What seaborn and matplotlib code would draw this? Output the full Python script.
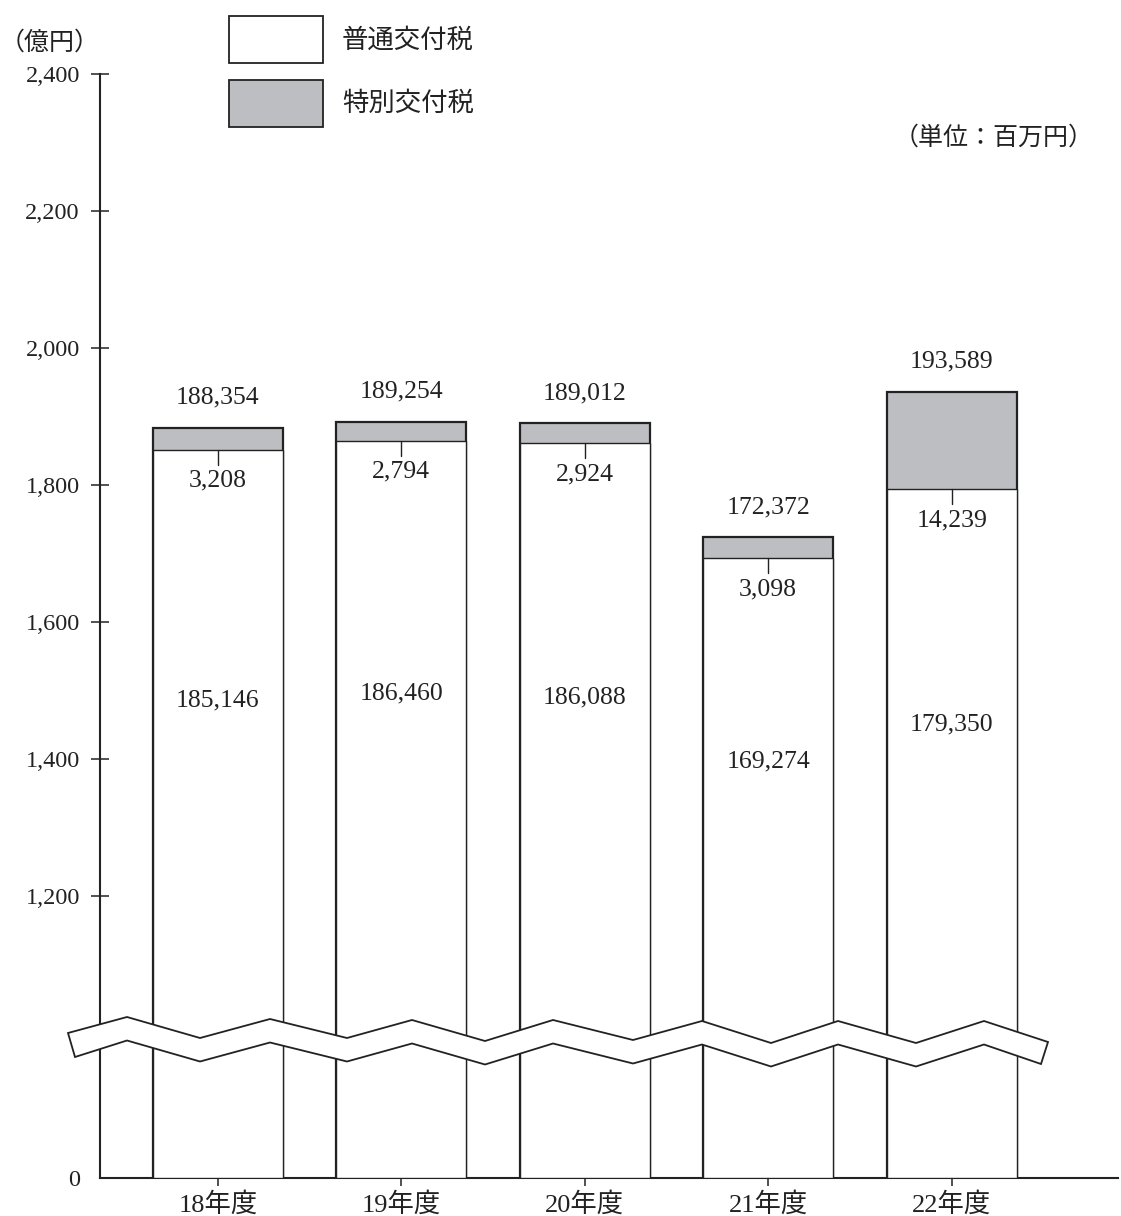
import numpy as np
import pandas as pd
import matplotlib
matplotlib.use("Agg")
import matplotlib.pyplot as plt
import seaborn as sns
from matplotlib.patches import Polygon, Rectangle

# ---------------- data (百万円) ----------------
years = ["18年度", "19年度", "20年度", "21年度", "22年度"]
normal_tax = [185146, 186460, 186088, 169274, 179350]    # 普通交付税
special_tax = [3208, 2794, 2924, 3098, 14239]           # 特別交付税
total_tax = [188354, 189254, 189012, 172372, 193589]    # 合計
series_names = ["普通交付税", "特別交付税"]
ytick_values = [0, 1200, 1400, 1600, 1800, 2000, 2200, 2400]
ytick_labels = ["0", "1,200", "1,400", "1,600", "1,800", "2,000", "2,200", "2,400"]
y_unit_label = "（億円）"
unit_note = "（単位：百万円）"

# layout only: vertical position (億円) of the 普通交付税 value labels
normal_label_pos = [1486, 1495, 1490, 1396, 1450]

# ---------------- style ----------------
W, H = 1121, 1216
INK = "#222222"
GRAY = "#bdbec2"

sns.set_theme(style="white")
plt.rcParams["font.family"] = ["Liberation Serif", "Noto Sans CJK JP"]
plt.rcParams["text.color"] = INK
plt.rcParams["axes.edgecolor"] = INK
plt.rcParams["xtick.color"] = INK
plt.rcParams["ytick.color"] = INK

df = pd.DataFrame({
    "year": years,
    "normal": np.array(normal_tax) / 100.0,
    "total": np.array(total_tax) / 100.0,
})

fig = plt.figure(figsize=(W / 100, H / 100), dpi=100)
ax = fig.add_axes([100 / W, (H - 1178) / H, (1118 - 100) / W, (1178 - 74) / H])

# broken axis: compress 0..1000 into a short segment
BREAK = 1000.0
ZERO_AT = 788.3


def fwd(v):
    v = np.asarray(v, dtype=float)
    return np.where(v >= BREAK, v, ZERO_AT + v * (BREAK - ZERO_AT) / BREAK)


def inv(u):
    u = np.asarray(u, dtype=float)
    return np.where(u >= BREAK, u, (u - ZERO_AT) * BREAK / (BREAK - ZERO_AT))


sns.barplot(data=df, x="year", y="total", color=GRAY, saturation=1,
            edgecolor=INK, linewidth=1.6, width=0.71, ax=ax, zorder=2)
sns.barplot(data=df, x="year", y="normal", color="white", saturation=1,
            edgecolor=INK, linewidth=1.0, width=0.71, ax=ax, zorder=3)

ax.set_yscale("function", functions=(fwd, inv))
ax.set_ylim(0, 2400)
ax.set_xlim(-0.643, 4.907)
ax.set_xlabel("")
ax.set_ylabel("")

ax.set_yticks(ytick_values)
ax.set_yticklabels(ytick_labels, fontsize=17.5)
ax.yaxis.set_minor_locator(matplotlib.ticker.NullLocator())
ax.tick_params(axis="y", direction="inout", length=13, width=1.1, pad=8,
               left=True)
ax.yaxis.get_major_ticks()[0].tick1line.set_visible(False)
ax.tick_params(axis="x", direction="out", length=6, width=1.1, pad=4,
               bottom=True, labelsize=19)

for s in ["top", "right"]:
    ax.spines[s].set_visible(False)
for s in ["left", "bottom"]:
    ax.spines[s].set_linewidth(1.5)
    ax.spines[s].set_color(INK)


def shift(y, dpx):
    d = ax.transData.transform((0, y))
    return ax.transData.inverted().transform((d[0], d[1] + dpx))[1]


# labels
for i in range(len(years)):
    t = total_tax[i] / 100.0
    n = normal_tax[i] / 100.0
    ax.text(i, shift(t, 30), f"{total_tax[i]:,}", ha="center", va="center",
            fontsize=18.5, color=INK, zorder=6)
    ax.plot([i, i], [n, shift(n, -15)], color=INK, lw=1.0, zorder=6)
    ax.text(i, shift(n, -31), f"{special_tax[i]:,}", ha="center", va="center",
            fontsize=18.5, color=INK, zorder=6)
    ax.text(i, normal_label_pos[i], f"{normal_tax[i]:,}", ha="center",
            va="center", fontsize=18.5, color=INK, zorder=6)

# axis break band (decoration, figure pixel coordinates)
upper = [(68, 1033), (127, 1017), (200, 1038), (270, 1019), (347, 1038),
         (412, 1020), (485, 1041), (553, 1020), (633, 1040), (702, 1021),
         (771, 1043), (838, 1021), (916, 1043), (984, 1021), (1048, 1042)]
lower = [(75, 1057)] + [(x, y + 23.5) for x, y in upper[1:-1]] + [(1041, 1064)]
pts = upper + lower[::-1]
pts_fig = [(x / W, 1 - y / H) for x, y in pts]
band = Polygon(pts_fig, closed=True, facecolor="white", edgecolor=INK,
               linewidth=1.3, transform=fig.transFigure, zorder=20,
               clip_on=False)
ax.add_artist(band)

# legend (manual)
def frect(x0, y0, x1, y1, fc):
    fig.patches.append(Rectangle((x0 / W, 1 - y1 / H), (x1 - x0) / W,
                                 (y1 - y0) / H, facecolor=fc, edgecolor=INK,
                                 linewidth=1.3, transform=fig.transFigure))


frect(229, 16, 323, 63, "white")
frect(229, 80, 323, 127, GRAY)
fig.text(342 / W, 1 - 40 / H, series_names[0], ha="left", va="center",
         fontsize=19, color=INK)
fig.text(342 / W, 1 - 104 / H, series_names[1], ha="left", va="center",
         fontsize=19, color=INK)

fig.text(0 / W, 1 - 43 / H, y_unit_label, ha="left", va="center",
         fontsize=18, color=INK)
fig.text(1094 / W, 1 - 138 / H, unit_note, ha="right", va="center",
         fontsize=18, color=INK)

fig.savefig("out.png", dpi=100)
